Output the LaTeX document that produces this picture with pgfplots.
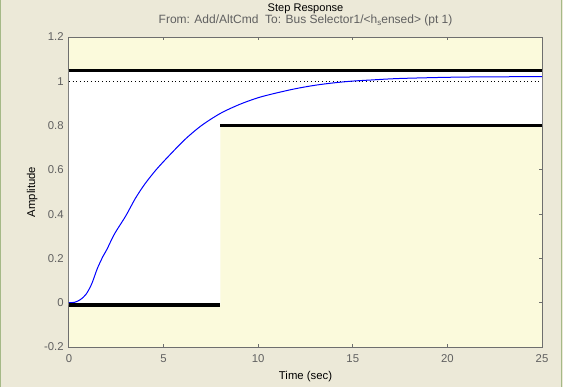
\documentclass[border=0pt]{standalone}
\usepackage{pgfplots}
\pgfplotsset{compat=1.18}
\usepackage{fontspec}
\setmainfont{Liberation Sans}
\definecolor{bgc}{RGB}{236,233,216}
\definecolor{yel}{RGB}{251,250,220}
\definecolor{axc}{RGB}{110,110,110}
\definecolor{tlc}{RGB}{96,96,96}
\definecolor{brd}{RGB}{165,185,135}
\begin{document}
\begin{tikzpicture}
\fill[bgc] (-51.75pt,-30pt) rectangle (370.5pt,260.25pt);
\useasboundingbox (-51.75pt,-30pt) rectangle (370.5pt,260.25pt);
\draw[brd, line width=0.75pt] (-51.375pt,-30pt) -- (-51.375pt,260.25pt);
\draw[brd, line width=0.75pt] (369.4pt,-30pt) -- (369.4pt,260.25pt);
\begin{axis}[
  at={(0,0)}, anchor=south west,
  scale only axis, width=354.75pt, height=232.5pt,
  xmin=0, xmax=25, ymin=-0.2, ymax=1.2,
  xtick={0,5,10,15,20,25},
  ytick={-0.2,0,0.2,0.4,0.6,0.8,1,1.2},
  yticklabels={-0.2,0,0.2,0.4,0.6,0.8,1,1.2},
  xticklabels={0,5,10,15,20,25},
  tick align=inside, major tick length=2.6pt,
  tick style={axc, line width=0.75pt},
  axis line style={axc, line width=0.75pt},
  ticklabel style={font=\fontsize{8.5}{10}\selectfont, text=tlc},
  yticklabel style={xshift=-0.5pt},
  xticklabel style={yshift=-2pt},
  axis background/.style={fill=yel},
  clip=true,
]
\addplot[fill=white, draw=none] coordinates {(0,-0.01)(8,-0.01)(8,0.8)(25,0.8)(25,1.05)(0,1.05)};
\addplot[black, line width=0.75pt, dotted] coordinates {(0,1)(25,1)};
\addplot[blue, line width=0.75pt, smooth, tension=0.5] coordinates {
(0,0)(0.3,0.002)(0.6,0.014)(0.9,0.038)(1.2,0.085)(1.5,0.155)(1.8,0.21)(2.0,0.24)(2.4,0.31)(3.0,0.392)(3.5,0.47)(4.0,0.535)(4.6,0.60)(5.3,0.665)(6.15,0.739)(7.0,0.80)(8.0,0.855)(9.0,0.895)(10.0,0.926)(11.0,0.948)(12.0,0.967)(13.0,0.982)(14.0,0.993)(15.0,1.001)(16.0,1.006)(17.0,1.011)(18.0,1.014)(20.0,1.018)(22.0,1.020)(25.0,1.021)};
\addplot[black, line width=2.4pt] coordinates {(0,1.05)(25,1.05)};
\addplot[black, line width=2.4pt] coordinates {(0,-0.01)(8,-0.01)};
\addplot[black, line width=2.4pt] coordinates {(8,0.8)(25,0.8)};
\end{axis}
\node[anchor=base, font=\fontsize{8.3}{10}\selectfont] at (177.4pt,252pt) {Step Response};
\node[anchor=base, font=\fontsize{9}{10}\selectfont, text=tlc] at (177.4pt,243pt) {From: Add/AltCmd\ \ To: Bus Selector1/\textless h\raisebox{-2.2pt}{\fontsize{6}{7}\selectfont s}ensed\textgreater{} (pt 1)};
\node[anchor=base, font=\fontsize{8.5}{10}\selectfont] at (177.4pt,-24pt) {Time (sec)};
\node[anchor=base, rotate=90, font=\fontsize{8.5}{10}\selectfont] at (-25.5pt,116.25pt) {Amplitude};
\end{tikzpicture}
\end{document}
